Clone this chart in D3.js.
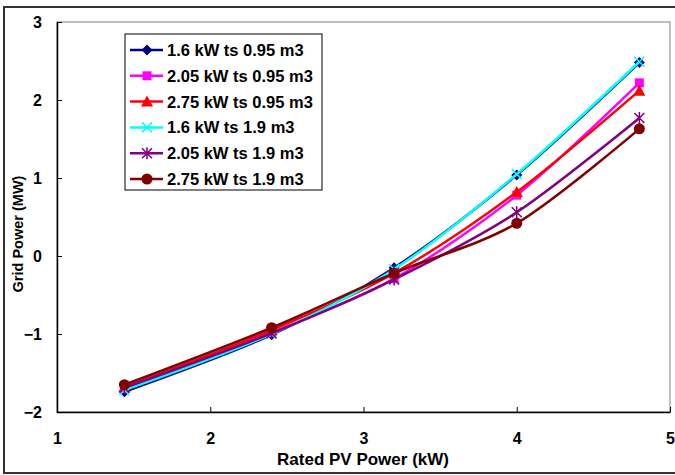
<!DOCTYPE html>
<html>
<head>
<meta charset="utf-8">
<script src="https://cdn.jsdelivr.net/npm/d3@7"></script>
<style>
body { margin: 0; background: #fff; }
text { font-family: "Liberation Sans", Arial, sans-serif; font-weight: bold; }
</style>
</head>
<body>
<div id="chart"></div>
<script>
var pvPower = [1.44, 2.4, 3.2, 4.0, 4.8]
var seriesNames = ["1.6 kW ts 0.95 m3", "2.05 kW ts 0.95 m3", "2.75 kW ts 0.95 m3",
                   "1.6 kW ts 1.9 m3", "2.05 kW ts 1.9 m3", "2.75 kW ts 1.9 m3"]
var s1 = [-1.74, -1.01, -0.15, 1.04, 2.48]
var s2 = [-1.70, -0.98, -0.29, 0.78, 2.22]
var s3 = [-1.68, -0.95, -0.22, 0.82, 2.12]
var s4 = [-1.72, -1.00, -0.17, 1.05, 2.49]
var s5 = [-1.69, -0.99, -0.30, 0.56, 1.77]
var s6 = [-1.65, -0.92, -0.22, 0.42, 1.63]
var xTicks = [1, 2, 3, 4, 5]
var yTicks = [-2, -1, 0, 1, 2, 3]

var colors = ["#000080", "#FF00FF", "#FF0000", "#00FFFF", "#800080", "#800000"]
var markers = ["diamond", "square", "triangle", "cross", "star", "circle"]
var allSeries = [s1, s2, s3, s4, s5, s6]

var width = 675, height = 475
var margins = {left: 57, top: 22, right: 5, bottom: 63}

var svg = d3.select("#chart").append("svg")
    .attr("width", width)
    .attr("height", height)

// chart area border
svg.append("rect")
    .attr("x", 4).attr("y", 7)
    .attr("width", 690).attr("height", 466)
    .attr("fill", "none")
    .attr("stroke", "#333")
    .attr("stroke-width", 2)

var xScale = d3.scaleLinear().domain([1, 5]).range([margins.left, width - margins.right])
var yScale = d3.scaleLinear().domain([-2, 3]).range([height - margins.bottom, margins.top])

// plot frame
svg.append("rect")
    .attr("x", xScale(1)).attr("y", yScale(3))
    .attr("width", xScale(5) - xScale(1))
    .attr("height", yScale(-2) - yScale(3))
    .attr("fill", "none")
    .attr("stroke", "#aaa")
    .attr("stroke-width", 1.5)

var xAxis = svg.append("g")
    .attr("transform", "translate(0," + yScale(-2) + ")")
    .call(d3.axisBottom(xScale).tickValues(xTicks).tickFormat(d3.format("d"))
        .tickSizeInner(-5).tickSizeOuter(0).tickPadding(21))
var yAxis = svg.append("g")
    .attr("transform", "translate(" + xScale(1) + ",0)")
    .call(d3.axisLeft(yScale).tickValues(yTicks).tickFormat(d3.format("d"))
        .tickSizeInner(-5).tickSizeOuter(0).tickPadding(15))

;[xAxis, yAxis].forEach(function(ax){
    ax.select(".domain").attr("stroke", "#000").attr("stroke-width", 1.5)
    ax.selectAll(".tick line").attr("stroke", "#000")
    ax.selectAll(".tick text").attr("font-size", "16px").attr("fill", "#000")
        .style("font-family", "'Liberation Sans', Arial, sans-serif").style("font-weight", "bold")
})

svg.append("text")
    .attr("x", 363).attr("y", 465)
    .attr("text-anchor", "middle")
    .attr("font-size", "17px")
    .text("Rated PV Power (kW)")

svg.append("text")
    .attr("transform", "translate(23,234) rotate(-90)")
    .attr("text-anchor", "middle")
    .attr("font-size", "14.5px")
    .text("Grid Power (MW)")

var line = d3.line()
    .x(function(d, i){ return xScale(pvPower[i]) })
    .y(function(d){ return yScale(d) })
    .curve(d3.curveCardinal.tension(0.1))

function drawMarker(g, type, color, x, y){
    if (type === "diamond") {
        g.append("path").attr("d", "M" + x + "," + (y - 5.5) + "L" + (x + 5.5) + "," + y + "L" + x + "," + (y + 5.5) + "L" + (x - 5.5) + "," + y + "Z")
            .attr("fill", color)
    } else if (type === "square") {
        g.append("rect").attr("x", x - 4.5).attr("y", y - 4.5).attr("width", 9).attr("height", 9).attr("fill", color)
    } else if (type === "triangle") {
        g.append("path").attr("d", "M" + x + "," + (y - 6) + "L" + (x + 6) + "," + (y + 5) + "L" + (x - 6) + "," + (y + 5) + "Z")
            .attr("fill", color)
    } else if (type === "cross") {
        g.append("path").attr("d", "M" + (x - 5) + "," + (y - 5) + "L" + (x + 5) + "," + (y + 5) + "M" + (x + 5) + "," + (y - 5) + "L" + (x - 5) + "," + (y + 5))
            .attr("stroke", color).attr("stroke-width", 1.5)
    } else if (type === "star") {
        g.append("path").attr("d", "M" + (x - 5) + "," + (y - 5) + "L" + (x + 5) + "," + (y + 5) + "M" + (x + 5) + "," + (y - 5) + "L" + (x - 5) + "," + (y + 5) + "M" + x + "," + (y - 6) + "L" + x + "," + (y + 6))
            .attr("stroke", color).attr("stroke-width", 1.5)
    } else {
        g.append("circle").attr("cx", x).attr("cy", y).attr("r", 5.5).attr("fill", color)
    }
}

allSeries.forEach(function(vals, k){
    var g = svg.append("g")
    g.append("path")
        .datum(vals)
        .attr("d", line)
        .attr("fill", "none")
        .attr("stroke", colors[k])
        .attr("stroke-width", 2.5)
    vals.forEach(function(v, i){
        drawMarker(g, markers[k], colors[k], xScale(pvPower[i]), yScale(v))
    })
})

// legend
var legend = svg.append("g")
legend.append("rect")
    .attr("x", 125).attr("y", 34)
    .attr("width", 197).attr("height", 156)
    .attr("fill", "#fff")
    .attr("stroke", "#000")
    .attr("stroke-width", 1)

seriesNames.forEach(function(name, k){
    var y = 50 + k * 25.8
    legend.append("line")
        .attr("x1", 130).attr("x2", 163)
        .attr("y1", y).attr("y2", y)
        .attr("stroke", colors[k])
        .attr("stroke-width", 2.5)
    drawMarker(legend, markers[k], colors[k], 147, y)
    legend.append("text")
        .attr("x", 167).attr("y", y + 6)
        .attr("font-size", "16.5px")
        .text(name)
})
</script>
</body>
</html>
